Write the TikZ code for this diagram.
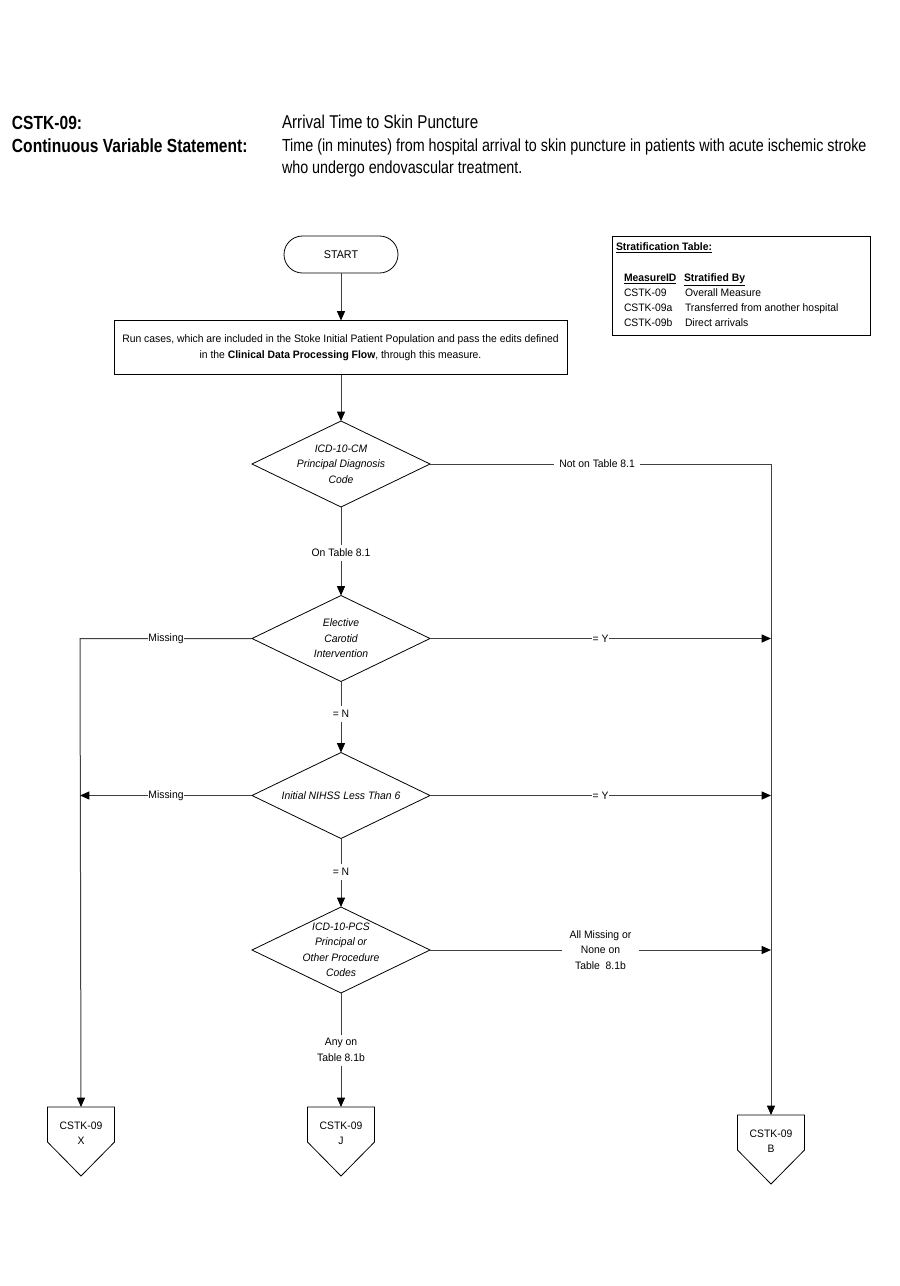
\documentclass[tikz,border=0pt]{standalone}
\usepackage{fontspec}
\setmainfont{Liberation Sans}[FakeStretch=0.96]
\newfontfamily\hdfont{Liberation Sans}[FakeStretch=0.82]
\usetikzlibrary{arrows.meta,calc}
\newlength\pxu
\setlength\pxu{0.75pt}
\begin{document}
\begin{tikzpicture}[x=0.75pt,y=-0.75pt,
  every node/.style={inner sep=0pt, outer sep=0pt},
  hdbold/.style={font=\hdfont\bfseries\fontsize{14.25}{17}\selectfont, anchor=base west},
  hdreg/.style={font=\hdfont\fontsize{13.9}{17}\selectfont, anchor=base west},
  hdbody/.style={font=\hdfont\fontsize{13.1}{16}\selectfont, anchor=base west},
  small/.style={font=\fontsize{8.1}{11.6}\selectfont},
  tbl/.style={small, anchor=base west},
  shapeline/.style={draw=black, line width=0.6pt},
  conn/.style={draw=black!75, line width=0.75pt},
  arr/.style={conn, -{Triangle[length=7pt,width=6pt,color=black]}},
  lbl/.style={small, fill=white, inner sep=1.5pt, align=center},
  diatext/.style={font=\itshape\fontsize{8.1}{11.6}\selectfont, align=center, minimum width=178\pxu, minimum height=86\pxu},
  offpage/.style={small, align=center, anchor=north, minimum width=67\pxu, minimum height=52\pxu, text depth=0pt}
]
\useasboundingbox (0,0) rectangle (900,1286);

% Header
\node[hdbold] (h1) at (12,129) {CSTK-09:};
\node[hdbold] (h2) at (12,152) {Continuous Variable Statement:};
\node[hdreg] (h3) at (282,128) {Arrival Time to Skin Puncture};
\node[hdbody] (h4) at (282,151) {Time (in minutes) from hospital arrival to skin puncture in patients with acute ischemic stroke};
\node[hdbody] (h5) at (282,173) {who undergo endovascular treatment.};

% Stratification table
\node[shapeline, draw, minimum width=258\pxu, minimum height=99\pxu, anchor=north west] (strat) at (612,236) {};
\node[tbl, font=\bfseries\fontsize{8.1}{12}\selectfont] (s0) at (616,250) {\underline{Stratification Table:}};
\node[tbl, font=\bfseries\fontsize{8.1}{12}\selectfont] (s1) at (624,281) {\underline{MeasureID}};
\node[tbl, font=\bfseries\fontsize{8.1}{12}\selectfont] (s2) at (684,281) {\underline{Stratified By}};
\node[tbl] (s3) at (624,296) {CSTK-09};
\node[tbl] (s4) at (685,296) {Overall Measure};
\node[tbl] (s5) at (624,311) {CSTK-09a};
\node[tbl] (s6) at (685,311) {Transferred from another hospital};
\node[tbl] (s7) at (624,326) {CSTK-09b};
\node[tbl] (s8) at (685,326) {Direct arrivals};

% Start
\node[shapeline, draw, rounded corners=18.5\pxu, minimum width=114\pxu, minimum height=37\pxu, font=\fontsize{8.4}{12}\selectfont] (start) at (341,254.5) {START};

% Process box
\node[shapeline, draw, minimum width=453\pxu, minimum height=54\pxu, align=center, font=\fontsize{8.1}{12}\selectfont] (proc) at (340.5,347.5) {Run cases, which are included in the Stoke Initial Patient Population and pass the edits defined\\in the \textbf{Clinical Data Processing Flow}, through this measure.};

% Diamonds
\node[diatext] (d1) at (341,464) {ICD-10-CM\\Principal Diagnosis\\Code};
\node[diatext] (d2) at (341,638.5) {Elective\\Carotid\\Intervention};
\node[diatext] (d3) at (341,795.5) {Initial NIHSS Less Than 6};
\node[diatext] (d4) at (341,950) {ICD-10-PCS\\Principal or\\Other Procedure\\Codes};
\foreach \d in {d1,d2,d3,d4}{
  \draw[shapeline] (\d.north) -- (\d.east) -- (\d.south) -- (\d.west) -- cycle;
}

% Off-page connectors
\node[offpage] (x) at (81,1107) {CSTK-09\\X};
\node[offpage] (j) at (341,1107) {CSTK-09\\J};
\node[offpage] (b) at (771,1115) {CSTK-09\\B};
\foreach \o in {x,j,b}{
  \draw[shapeline] (\o.north west) -- (\o.north east) -- ++(0,35) -- ++(-33.5,34) -- ++(-33.5,-34) -- cycle;
}

% Coordinates
\coordinate (c1) at (771,464);
\coordinate (c2) at (80,638.5);
\coordinate (c3) at (80,795.5);
\coordinate (r2) at (771,638.5);
\coordinate (r3) at (771,795.5);
\coordinate (r4) at (771,950);

% Connectors
\draw[arr] (start.south) -- (start.south |- proc.north);
\draw[arr] (d1.north |- proc.south) -- (d1.north);
\draw[arr] (d1.east) -- node[lbl, pos=0.49, inner xsep=4pt] {Not on Table 8.1} (c1) -- (b.north);
\draw[arr] (d1.south) -- node[lbl, pos=0.52, inner ysep=3pt] {On Table 8.1} (d2.north);
\draw[arr] (d2.west) -- node[lbl, pos=0.5, inner sep=0.3pt] {Missing} (c2) -- (x.north);
\draw[arr] (d2.east) -- node[lbl, pos=0.5, inner sep=0.3pt] {= Y} (r2);
\draw[arr] (d2.south) -- node[lbl, pos=0.46, inner ysep=3pt] {= N} (d3.north);
\draw[arr] (d3.west) -- node[lbl, pos=0.5, inner sep=0.3pt] {Missing} (c3);
\draw[arr] (d3.east) -- node[lbl, pos=0.5, inner sep=0.3pt] {= Y} (r3);
\draw[arr] (d3.south) -- node[lbl, pos=0.49, inner ysep=3pt] {= N} (d4.north);
\draw[arr] (d4.east) -- node[lbl, pos=0.5, inner xsep=6pt] {All Missing or\\None on\\Table\ \ 8.1b} (r4);
\draw[arr] (d4.south) -- node[lbl, pos=0.5, inner ysep=3pt] {Any on\\Table 8.1b} (j.north);
\end{tikzpicture}
\end{document}
